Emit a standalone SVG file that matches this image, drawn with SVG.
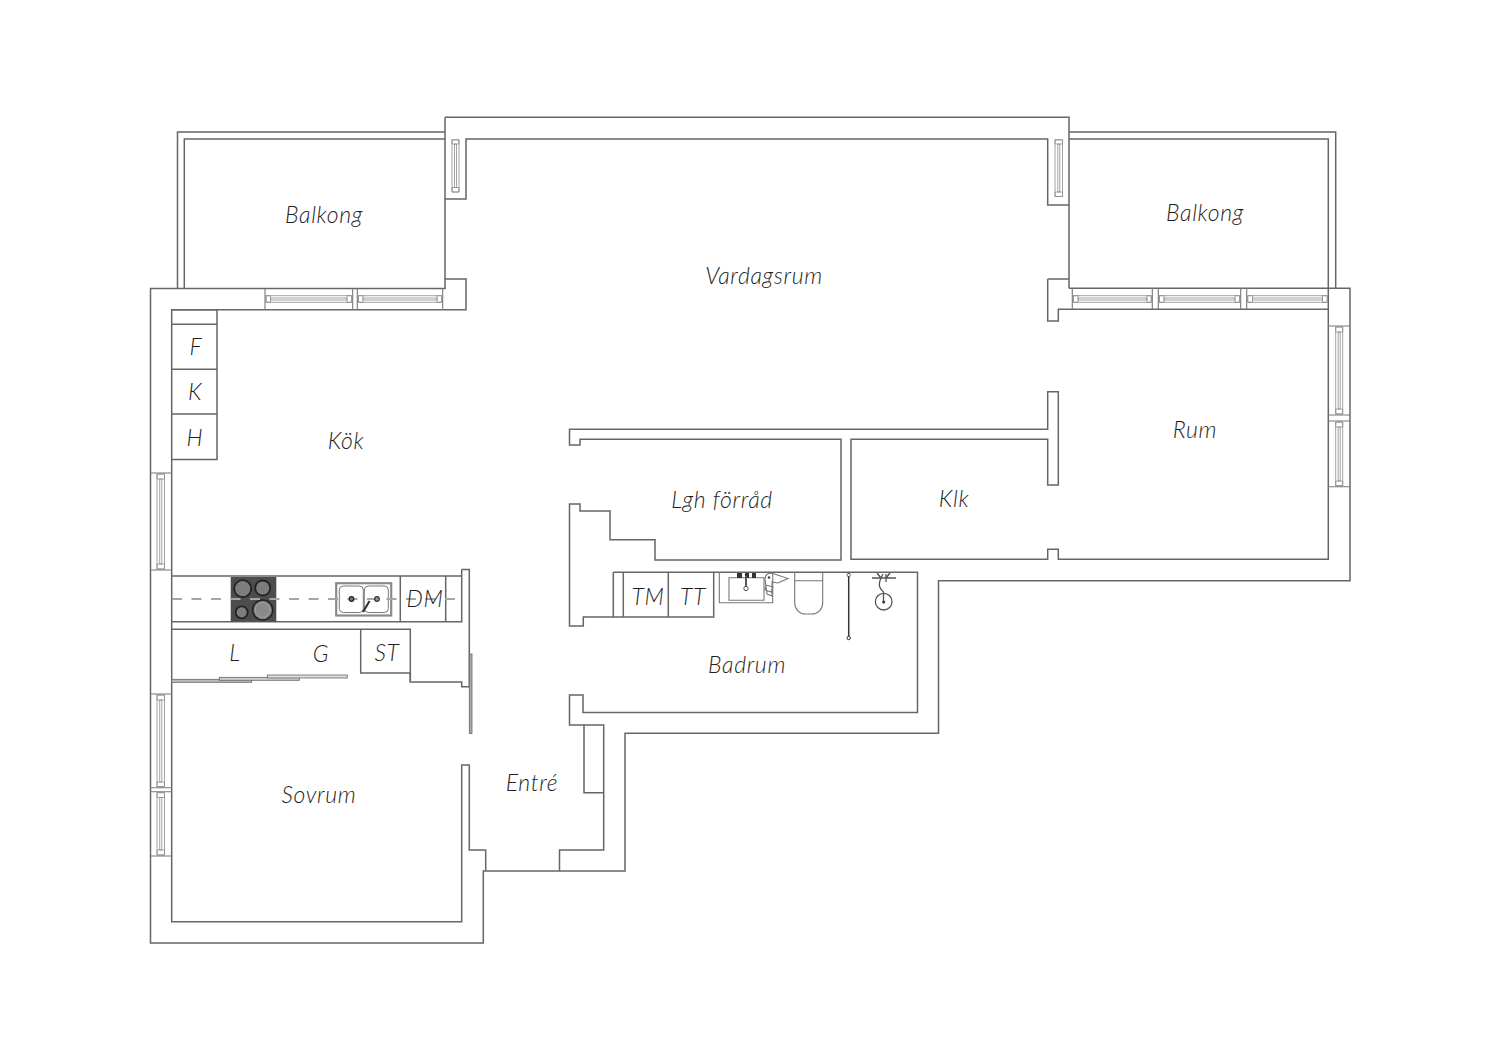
<svg xmlns="http://www.w3.org/2000/svg" width="1500" height="1060" viewBox="0 0 1500 1060">
<style>
.w{fill:none;stroke:#666;stroke-width:1.5;stroke-linejoin:miter}
.t{fill:none;stroke:#777;stroke-width:1.100}
.b{fill:#fff;stroke:#8c8c8c;stroke-width:.8}
.l{font-family:"Lato","Liberation Sans",sans-serif;font-style:italic;font-weight:300;font-size:23px;letter-spacing:.65px;fill:#1f1f1f;text-anchor:middle}
</style>
<rect width="1500" height="1060" fill="#fff"/>
<g id="walls">
<path class="w" d="M177.500 288.500V132H445M184.300 288.500V139H445M445 117.300H1069V288.300M445 117.300V288.500H150.500V943H483.300V871H625V733.300H938.500V580.700H1350V288.300H1069M1069 132H1335.700V288.300M1069 139H1328.300V559.300H1058.300V549.300H1047.700V559.300H851V439.300H1047.700V485H1058.300V391.700H1047.700V429.300H569.500V445H580V439.300H841V560H655V539.700H610V511H580V504H569.500V626H583.300V617H713.700V572.300H917.500V712.500H583V695H569.500V725H603.700V850H559.500V871H485.700V850H469.300V765H461.700V921.700H171.700V309.700H466V279H445M445 199H466V139H1047.700V205H1069M1047.700 279H1069M1047.700 279V321H1058.300V309.300H1328.300"/>
<path class="w" d="M171.700 576H461.700V621.700H171.700M461.700 569.500H469.300V686.700H461.700V682H410.300V629.300H171.700M461.700 569.500V621.700"/>
<path class="w" d="M360.700 629.300V673H410.300V682M584 725V792.700H603.700"/>
</g>
<g id="windows">
<path class="t" d="M265 288.500V309.700M352.700 288.500V309.700M357.300 288.500V309.700M442.700 288.500V309.700M1072.300 288.300V309.300M1152.300 288.300V309.300M1158.300 288.300V309.300M1240.700 288.300V309.300M1246.700 288.300V309.300"/>
<path class="t" d="M150.500 473H171.700M150.500 570H171.700M150.500 694H171.700M150.500 787.700H171.700M150.500 791.700H171.700M150.500 856H171.700M1328.300 326H1350M1328.300 415H1350M1328.300 421H1350M1328.300 486.700H1350"/>
<path class="b" d="M266 295.700H351.700V302.300H266ZM270.500 298H347V300H270.500ZM266 295.700H270.500V302.300H266ZM347 295.700H351.700V302.300H347ZM358.300 295.700H441.700V302.300H358.300ZM363 298H437V300H363ZM358.300 295.700H363V302.300H358.300ZM437 295.700H441.700V302.300H437Z"/>
<path class="b" d="M1073.300 295.700H1151.300V302.300H1073.300ZM1078 298H1147V300H1078ZM1073.300 295.700H1078V302.300H1073.300ZM1147 295.700H1151.300V302.300H1147ZM1159.300 295.700H1239.700V302.300H1159.300ZM1164 298H1235V300H1164ZM1159.300 295.700H1164V302.300H1159.300ZM1235 295.700H1239.700V302.300H1235ZM1247.700 295.700H1327.300V302.300H1247.700ZM1252.500 298H1322.500V300H1252.500ZM1247.700 295.700H1252.500V302.300H1247.700ZM1322.500 295.700H1327.300V302.300H1322.500Z"/>
<path class="b" d="M157 474H164.500V569H157ZM159.700 479H161.800V564H159.700ZM157 474V479H164.500V474ZM157 564V569H164.500V564ZM157 695H164.500V786.700H157ZM159.700 700H161.800V782H159.700ZM157 695V700H164.500V695ZM157 782V786.700H164.500V782ZM157 792.700H164.500V855H157ZM159.700 797.500H161.800V850H159.700ZM157 792.700V797.500H164.500V792.700ZM157 850V855H164.500V850Z"/>
<path class="b" d="M1335.700 327H1342.700V414H1335.700ZM1338.200 332H1340.200V409H1338.200ZM1335.700 327V332H1342.700V327ZM1335.700 409V414H1342.700V409ZM1335.700 422H1342.700V485.700H1335.700ZM1338.200 427H1340.200V481H1338.200ZM1335.700 422V427H1342.700V422ZM1335.700 481V485.700H1342.700V481Z"/>
<path class="b" d="M452 139.800H459V192H452ZM454.500 144H456.500V187.500H454.500ZM452 187.500V192H459V187.500ZM452 144V139.800H459V144ZM1055 139.800H1062.500V196.500H1055ZM1057.800 144H1059.800V192H1057.800ZM1055 192V196.500H1062.500V192ZM1055 144V139.800H1062.500V144Z"/>
</g>
<g id="kitchen">
<path class="w" d="M171.700 309.700H217V459.600H171.700M171.700 324.300H217M171.700 369.300H217M171.700 414H217M400.300 576V621.700M445.700 576V621.700"/>
<g id="hob">
<rect x="230.700" y="577" width="45.600" height="44.700" fill="#4d4d4d"/>
<circle cx="242.700" cy="588.700" r="8.500" fill="#7d7d7d" stroke="#222" stroke-width="1.800"/>
<circle cx="262.700" cy="588" r="7.500" fill="#7d7d7d" stroke="#222" stroke-width="1.800"/>
<circle cx="241.700" cy="612.300" r="6" fill="#7d7d7d" stroke="#222" stroke-width="1.800"/>
<circle cx="262.700" cy="610" r="10" fill="#7d7d7d" stroke="#222" stroke-width="1.500"/>
<circle cx="262.700" cy="610" r="7.500" fill="#8a8a8a" stroke="#aaa" stroke-width=".8"/>
</g>
<g id="sink">
<rect x="336.200" y="583.200" width="55" height="32.300" fill="#fff" stroke="#8a8a8a" stroke-width="2.200"/>
<rect x="339.300" y="586" width="24" height="26.500" rx="4" fill="#fff" stroke="#777" stroke-width="1"/>
<rect x="364.300" y="586" width="24" height="26.500" rx="4" fill="#fff" stroke="#777" stroke-width="1"/>
</g>
<path d="M172 599H461" fill="none" stroke="#a6a6a6" stroke-width="2" stroke-dasharray="10 9.500"/>
<circle cx="351.500" cy="599" r="2.300" fill="#777" stroke="#222" stroke-width="1.200"/>
<circle cx="377" cy="599" r="2.300" fill="#999" stroke="#333" stroke-width="1.200"/>
<path d="M363 612L369.500 601" fill="none" stroke="#333" stroke-width="2.200"/>
</g>
<g id="wardrobe">
<rect x="171.700" y="679.300" width="80" height="3" fill="#bbb" stroke="#666" stroke-width=".8"/>
<rect x="219.300" y="677.300" width="80" height="3" fill="#ccc" stroke="#666" stroke-width=".8"/>
<rect x="267.300" y="675" width="80" height="3" fill="#ddd" stroke="#666" stroke-width=".8"/>
<rect x="469.300" y="654" width="2.700" height="79.500" fill="#aaa" stroke="#666" stroke-width=".8"/>
</g>
<g id="bath">
<path class="w" d="M613.300 572.300H713.700M613.300 572.300V617M623.300 572.300V617M668.300 572.300V617"/>
<path class="t" d="M719.300 572.300V602.700H772.700V572.300M729 577.700H764V600.300H729Z"/>
<path d="M737 575.500H742M745 575.500H749M752 575.500H756" stroke="#333" stroke-width="5" fill="none"/>
<path d="M746 576V588" stroke="#555" stroke-width="2" fill="none"/>
<circle cx="746" cy="588.500" r="2.200" fill="#fff" stroke="#555"/>
<path class="t" d="M765 579C765 574 769 572.500 773 573.500L788 578.500L778 583L772 582V596L767 594ZM766 585L773 587L771 592L765 590Z"/>
<circle cx="769" cy="577.500" r="1.300" fill="#444"/>
<path class="t" d="M794.700 572.300V603A11 11 0 0 0 805.700 614H811.700A11 11 0 0 0 822.700 603V572.300M794.700 580.700H822.700"/>
<path d="M848.700 573V638" stroke="#333" stroke-width="1.500" fill="none"/>
<rect x="847.200" y="573.500" width="3" height="3" rx="1" fill="#fff" stroke="#333" stroke-width=".8"/>
<circle cx="848.700" cy="638" r="1.700" fill="#fff" stroke="#333"/>
<path d="M872 578H896M877 573L881 578M890 573L886 578" fill="none" stroke="#555" stroke-width="1.500"/>
<path d="M883 574C878 583 878 587 883.500 592V602M886 574V582" fill="none" stroke="#555" stroke-width="1.300"/>
<circle cx="883.700" cy="601.700" r="8.300" fill="none" stroke="#555" stroke-width="1.300"/>
<circle cx="883.700" cy="602" r="1.500" fill="#333"/>
</g>
<g id="labels">
<text class="l" x="324" y="222.500">Balkong</text>
<text class="l" x="1205" y="220.500">Balkong</text>
<text class="l" x="764" y="283.500">Vardagsrum</text>
<text class="l" x="346" y="448.500">Kök</text>
<text class="l" x="196" y="354.500">F</text>
<text class="l" x="195" y="399.500">K</text>
<text class="l" x="195" y="445.500">H</text>
<text class="l" x="1195" y="437.500">Rum</text>
<text class="l" x="954" y="506.500">Klk</text>
<text class="l" x="722" y="507.500">Lgh förråd</text>
<text class="l" x="747" y="672.500">Badrum</text>
<text class="l" x="648" y="604.500">TM</text>
<text class="l" x="693" y="604.500">TT</text>
<text class="l" x="425" y="606.500">DM</text>
<text class="l" x="235" y="660.500">L</text>
<text class="l" x="321" y="661.500">G</text>
<text class="l" x="387" y="660.500">ST</text>
<text class="l" x="319" y="802.500">Sovrum</text>
<text class="l" x="532" y="790.500">Entré</text>
</g>
</svg>
